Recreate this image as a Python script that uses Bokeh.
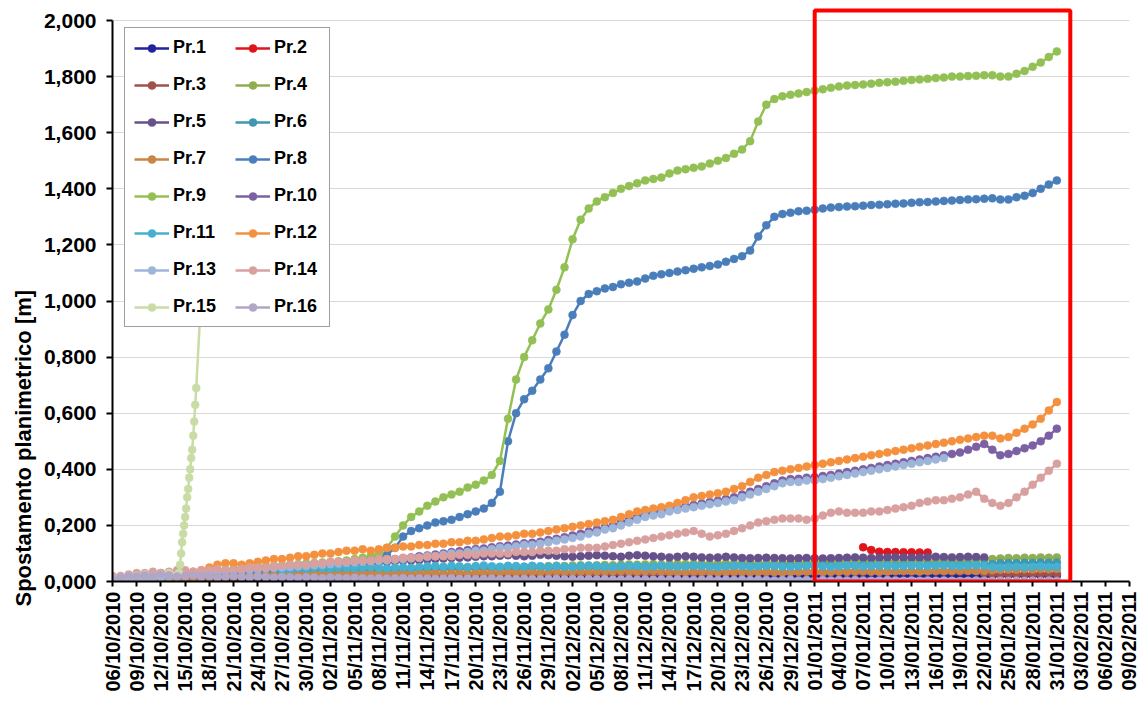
import pandas as pd
from math import pi
from bokeh.plotting import figure
from bokeh.models import (ColumnDataSource, FixedTicker, DatetimeTickFormatter, Legend,
                          LegendItem, BoxAnnotation, Range1d, Title)
from bokeh.embed import file_html
from bokeh.resources import INLINE

# ---------------- data ----------------
X_TICK_LABELS = ["06/10/2010", "09/10/2010", "12/10/2010", "15/10/2010", "18/10/2010", "21/10/2010",
                 "24/10/2010", "27/10/2010", "30/10/2010", "02/11/2010", "05/11/2010", "08/11/2010",
                 "11/11/2010", "14/11/2010", "17/11/2010", "20/11/2010", "23/11/2010", "26/11/2010",
                 "29/11/2010", "02/12/2010", "05/12/2010", "08/12/2010", "11/12/2010", "14/12/2010",
                 "17/12/2010", "20/12/2010", "23/12/2010", "26/12/2010", "29/12/2010", "01/01/2011",
                 "04/01/2011", "07/01/2011", "10/01/2011", "13/01/2011", "16/01/2011", "19/01/2011",
                 "22/01/2011", "25/01/2011", "28/01/2011", "31/01/2011", "03/02/2011", "06/02/2011",
                 "09/02/2011"]
Y_TICKS = [0.0, 0.2, 0.4, 0.6, 0.8, 1.0, 1.2, 1.4, 1.6, 1.8, 2.0]
Y_TICK_LABELS = ["0,000", "0,200", "0,400", "0,600", "0,800", "1,000", "1,200", "1,400",
                 "1,600", "1,800", "2,000"]
Y_TITLE = "Spostamento planimetrico [m]"

X_START = "2010-10-06"
X_END = "2011-02-09"
HIGHLIGHT_START = "2011-01-01 00:00"
HIGHLIGHT_END = "2011-02-01 16:00"
HIGHLIGHT_TOP = 2.036

# daily readings; each series starts at its START date
PR1_START = "2010-10-06"
PR1 = [0.000, 0.001, 0.002, 0.003, 0.003, 0.004, 0.004, 0.005, 0.005, 0.005,
       0.006, 0.006, 0.006, 0.007, 0.007, 0.007, 0.007, 0.008, 0.008, 0.008,
       0.008, 0.009, 0.009, 0.009, 0.009, 0.010, 0.010, 0.010, 0.010, 0.010,
       0.011, 0.011, 0.011, 0.011, 0.011, 0.012, 0.012, 0.012, 0.012, 0.012,
       0.012, 0.013, 0.013, 0.013, 0.013, 0.013, 0.013, 0.014, 0.014, 0.014,
       0.014, 0.014, 0.014, 0.014, 0.015, 0.015, 0.015, 0.015, 0.015, 0.015,
       0.015, 0.016, 0.016, 0.016, 0.016, 0.016, 0.016, 0.016, 0.016, 0.017,
       0.017, 0.017, 0.017, 0.017, 0.017, 0.017, 0.017, 0.017, 0.018, 0.018,
       0.018, 0.018, 0.018, 0.018, 0.018, 0.018, 0.018, 0.018, 0.019, 0.019,
       0.019, 0.019, 0.019, 0.019, 0.019, 0.019, 0.019, 0.019, 0.019, 0.020,
       0.020, 0.020, 0.020, 0.020, 0.020, 0.020, 0.020, 0.020, 0.020, 0.020,
       0.021, 0.021, 0.021, 0.021, 0.021, 0.021, 0.021, 0.021]

PR2_START = "2011-01-07"
PR2 = [0.122, 0.112, 0.106, 0.105, 0.105, 0.104, 0.104, 0.103, 0.103]

PR3_START = "2010-10-06"
PR3 = [0.000, 0.002, 0.004, 0.005, 0.006, 0.007, 0.008, 0.009, 0.009, 0.010,
       0.011, 0.011, 0.012, 0.012, 0.013, 0.013, 0.014, 0.014, 0.015, 0.015,
       0.016, 0.016, 0.016, 0.017, 0.017, 0.018, 0.018, 0.018, 0.019, 0.019,
       0.019, 0.020, 0.020, 0.020, 0.021, 0.021, 0.021, 0.022, 0.022, 0.022,
       0.023, 0.023, 0.023, 0.024, 0.024, 0.024, 0.025, 0.025, 0.025, 0.026,
       0.026, 0.026, 0.026, 0.027, 0.027, 0.027, 0.028, 0.028, 0.028, 0.028,
       0.029, 0.029, 0.029, 0.029, 0.030, 0.030, 0.030, 0.030, 0.031, 0.031,
       0.031, 0.031, 0.031, 0.032, 0.032, 0.032, 0.032, 0.032, 0.033, 0.033,
       0.033, 0.033, 0.033, 0.033, 0.034, 0.034, 0.034, 0.034, 0.034, 0.034,
       0.035, 0.035, 0.035, 0.035, 0.035, 0.035, 0.035, 0.036, 0.036, 0.036,
       0.036, 0.036, 0.036, 0.036, 0.036, 0.036, 0.037, 0.037, 0.030, 0.027,
       0.025, 0.026, 0.027, 0.026, 0.027, 0.028, 0.027, 0.028]

PR4_START = "2010-10-06"
PR4 = [0.000, 0.003, 0.004, 0.006, 0.006, 0.008, 0.010, 0.010, 0.012, 0.013,
       0.013, 0.015, 0.016, 0.016, 0.018, 0.019, 0.019, 0.021, 0.022, 0.022,
       0.024, 0.025, 0.025, 0.027, 0.028, 0.028, 0.030, 0.031, 0.031, 0.033,
       0.034, 0.034, 0.036, 0.037, 0.037, 0.039, 0.040, 0.040, 0.042, 0.043,
       0.043, 0.045, 0.046, 0.046, 0.048, 0.048, 0.049, 0.050, 0.050, 0.052,
       0.052, 0.053, 0.054, 0.053, 0.055, 0.056, 0.055, 0.057, 0.058, 0.057,
       0.058, 0.059, 0.058, 0.060, 0.061, 0.060, 0.061, 0.062, 0.061, 0.062,
       0.063, 0.062, 0.063, 0.064, 0.063, 0.064, 0.065, 0.064, 0.065, 0.066,
       0.065, 0.066, 0.067, 0.066, 0.067, 0.068, 0.067, 0.068, 0.069, 0.068,
       0.069, 0.070, 0.069, 0.070, 0.071, 0.070, 0.071, 0.072, 0.071, 0.072,
       0.073, 0.072, 0.073, 0.074, 0.073, 0.074, 0.075, 0.076, 0.078, 0.080,
       0.082, 0.084, 0.083, 0.085, 0.084, 0.086, 0.085, 0.086]

PR5_START = "2010-10-06"
PR5 = [0.000, 0.003, 0.005, 0.008, 0.010, 0.012, 0.014, 0.016, 0.018, 0.020,
       0.022, 0.024, 0.026, 0.028, 0.030, 0.032, 0.034, 0.036, 0.038, 0.040,
       0.042, 0.044, 0.046, 0.048, 0.050, 0.052, 0.054, 0.056, 0.058, 0.060,
       0.062, 0.064, 0.066, 0.068, 0.070, 0.072, 0.074, 0.075, 0.076, 0.078,
       0.080, 0.082, 0.084, 0.085, 0.086, 0.088, 0.090, 0.090, 0.092, 0.094,
       0.092, 0.090, 0.092, 0.095, 0.094, 0.092, 0.090, 0.088, 0.090, 0.092,
       0.094, 0.092, 0.090, 0.088, 0.092, 0.094, 0.092, 0.090, 0.088, 0.086,
       0.088, 0.090, 0.088, 0.086, 0.085, 0.086, 0.088, 0.086, 0.084, 0.083,
       0.084, 0.085, 0.084, 0.083, 0.082, 0.083, 0.084, 0.083, 0.082, 0.083,
       0.084, 0.085, 0.086, 0.085, 0.084, 0.085, 0.086, 0.087, 0.086, 0.085,
       0.086, 0.087, 0.088, 0.087, 0.086, 0.087, 0.088, 0.087, 0.086]

PR6_START = "2010-10-06"
PR6 = [0.000, 0.002, 0.004, 0.006, 0.008, 0.010, 0.012, 0.013, 0.014, 0.015,
       0.016, 0.017, 0.018, 0.019, 0.020, 0.021, 0.022, 0.023, 0.024, 0.025,
       0.030, 0.038, 0.040, 0.042, 0.040, 0.041, 0.043, 0.042, 0.044, 0.043,
       0.044, 0.045, 0.044, 0.046, 0.045, 0.044, 0.046, 0.045, 0.047, 0.046,
       0.045, 0.047, 0.046, 0.048, 0.047, 0.046, 0.048, 0.047, 0.049, 0.048,
       0.047, 0.049, 0.048, 0.050, 0.049, 0.048, 0.050, 0.049, 0.051, 0.050,
       0.049, 0.051, 0.050, 0.052, 0.051, 0.050, 0.052, 0.051, 0.053, 0.052,
       0.051, 0.053, 0.052, 0.054, 0.053, 0.052, 0.054, 0.053, 0.055, 0.054,
       0.053, 0.055, 0.054, 0.056, 0.055, 0.054, 0.056, 0.055, 0.057, 0.056,
       0.055, 0.057, 0.056, 0.058, 0.057, 0.056, 0.058, 0.057, 0.059, 0.058,
       0.057, 0.059, 0.058, 0.060, 0.059, 0.058, 0.060, 0.059, 0.061, 0.062,
       0.065, 0.066, 0.065, 0.067, 0.066, 0.068, 0.067, 0.068]

PR7_START = "2010-10-06"
PR7 = [0.000, 0.003, 0.005, 0.007, 0.008, 0.010, 0.011, 0.012, 0.013, 0.014,
       0.015, 0.016, 0.017, 0.018, 0.018, 0.019, 0.020, 0.020, 0.021, 0.021,
       0.022, 0.022, 0.023, 0.023, 0.024, 0.024, 0.025, 0.025, 0.025, 0.026,
       0.026, 0.027, 0.026, 0.027, 0.028, 0.027, 0.028, 0.029, 0.028, 0.029,
       0.030, 0.029, 0.030, 0.031, 0.030, 0.031, 0.032, 0.031, 0.032, 0.033,
       0.032, 0.033, 0.034, 0.033, 0.034, 0.035, 0.034, 0.035, 0.036, 0.035,
       0.036, 0.035, 0.036, 0.037, 0.036, 0.035, 0.036, 0.037, 0.036, 0.035,
       0.034, 0.035, 0.036, 0.035, 0.034, 0.033, 0.034, 0.035, 0.034, 0.033,
       0.034, 0.035, 0.034, 0.033, 0.034, 0.035, 0.036, 0.035, 0.034, 0.035,
       0.036, 0.035, 0.036, 0.037, 0.036, 0.035, 0.036, 0.037, 0.038, 0.037,
       0.036, 0.037, 0.038, 0.037, 0.038, 0.039, 0.038, 0.037, 0.038, 0.040,
       0.042, 0.043, 0.042, 0.044, 0.043, 0.045, 0.044, 0.045]

PR8_START = "2010-10-06"
PR8 = [0.000, 0.004, 0.008, 0.010, 0.013, 0.016, 0.018, 0.021, 0.024, 0.026,
       0.028, 0.031, 0.033, 0.035, 0.037, 0.040, 0.042, 0.044, 0.046, 0.048,
       0.050, 0.052, 0.054, 0.056, 0.058, 0.060, 0.062, 0.064, 0.066, 0.068,
       0.072, 0.076, 0.080, 0.085, 0.095, 0.120, 0.160, 0.180, 0.190, 0.200,
       0.210, 0.215, 0.220, 0.230, 0.240, 0.250, 0.260, 0.280, 0.320, 0.500,
       0.600, 0.650, 0.680, 0.720, 0.760, 0.820, 0.880, 0.950, 1.000, 1.025,
       1.035, 1.045, 1.050, 1.060, 1.065, 1.070, 1.080, 1.090, 1.095, 1.100,
       1.105, 1.110, 1.115, 1.120, 1.125, 1.130, 1.140, 1.150, 1.160, 1.180,
       1.230, 1.270, 1.300, 1.310, 1.315, 1.320, 1.322, 1.325, 1.330, 1.333,
       1.335, 1.337, 1.338, 1.340, 1.342, 1.343, 1.345, 1.347, 1.348, 1.350,
       1.352, 1.353, 1.355, 1.357, 1.358, 1.360, 1.362, 1.363, 1.365, 1.366,
       1.362, 1.362, 1.370, 1.375, 1.385, 1.400, 1.415, 1.430]

PR9_START = "2010-10-06"
PR9 = [0.000, 0.005, 0.010, 0.012, 0.015, 0.018, 0.020, 0.024, 0.027, 0.030,
       0.032, 0.035, 0.038, 0.040, 0.042, 0.045, 0.047, 0.050, 0.052, 0.054,
       0.056, 0.058, 0.060, 0.062, 0.064, 0.066, 0.068, 0.070, 0.072, 0.075,
       0.080, 0.085, 0.090, 0.100, 0.120, 0.160, 0.200, 0.230, 0.250, 0.270,
       0.285, 0.300, 0.310, 0.320, 0.335, 0.345, 0.360, 0.380, 0.430, 0.580,
       0.720, 0.800, 0.860, 0.920, 0.970, 1.040, 1.120, 1.220, 1.290, 1.330,
       1.355, 1.370, 1.385, 1.400, 1.410, 1.420, 1.430, 1.435, 1.440, 1.455,
       1.465, 1.470, 1.475, 1.480, 1.490, 1.500, 1.510, 1.525, 1.540, 1.570,
       1.640, 1.700, 1.720, 1.730, 1.735, 1.740, 1.745, 1.750, 1.755, 1.760,
       1.765, 1.768, 1.770, 1.772, 1.775, 1.778, 1.780, 1.782, 1.785, 1.788,
       1.790, 1.792, 1.795, 1.797, 1.800, 1.800, 1.802, 1.803, 1.805, 1.805,
       1.800, 1.800, 1.810, 1.820, 1.835, 1.850, 1.870, 1.890]

PR10_START = "2010-10-06"
PR10 = [0.000, 0.003, 0.006, 0.009, 0.012, 0.015, 0.017, 0.020, 0.022, 0.025,
        0.027, 0.030, 0.032, 0.035, 0.037, 0.039, 0.042, 0.044, 0.046, 0.048,
        0.050, 0.052, 0.054, 0.056, 0.058, 0.060, 0.062, 0.064, 0.066, 0.068,
        0.070, 0.072, 0.074, 0.076, 0.078, 0.080, 0.083, 0.086, 0.090, 0.093,
        0.096, 0.100, 0.105, 0.108, 0.112, 0.116, 0.118, 0.122, 0.126, 0.128,
        0.132, 0.136, 0.138, 0.142, 0.148, 0.152, 0.158, 0.164, 0.170, 0.178,
        0.185, 0.193, 0.200, 0.210, 0.220, 0.230, 0.238, 0.244, 0.250, 0.258,
        0.263, 0.268, 0.273, 0.278, 0.283, 0.288, 0.294, 0.300, 0.310, 0.320,
        0.330, 0.340, 0.350, 0.360, 0.365, 0.366, 0.370, 0.372, 0.376, 0.380,
        0.385, 0.390, 0.395, 0.400, 0.405, 0.410, 0.415, 0.420, 0.425, 0.430,
        0.435, 0.440, 0.445, 0.450, 0.455, 0.460, 0.470, 0.480, 0.490, 0.470,
        0.450, 0.455, 0.465, 0.475, 0.485, 0.500, 0.520, 0.545]

PR11_START = "2010-10-27"
PR11 = [0.040, 0.045, 0.048, 0.046, 0.050, 0.048, 0.047, 0.050, 0.049,
        0.048, 0.050, 0.052, 0.049, 0.047, 0.050, 0.051, 0.049, 0.052, 0.054,
        0.055, 0.053, 0.056, 0.054, 0.052, 0.055, 0.057, 0.054, 0.053, 0.056,
        0.055, 0.053, 0.056, 0.054, 0.052, 0.055, 0.053, 0.052, 0.054, 0.056,
        0.055, 0.053, 0.052, 0.054, 0.056, 0.055, 0.053, 0.054, 0.056, 0.055,
        0.053, 0.054, 0.056, 0.055, 0.053, 0.052, 0.054, 0.056, 0.055, 0.053,
        0.054, 0.056, 0.055, 0.053, 0.052, 0.054, 0.056, 0.055, 0.054, 0.053,
        0.055, 0.057, 0.056, 0.054, 0.055, 0.057, 0.056, 0.054, 0.055, 0.057,
        0.056, 0.055, 0.057, 0.058, 0.056, 0.055, 0.057, 0.058, 0.056, 0.052,
        0.050, 0.052, 0.053, 0.051, 0.053, 0.054, 0.052, 0.053]

PR12_START = "2010-10-06"
PR12 = [0.010, 0.015, 0.020, 0.020, 0.025, 0.025, 0.030, 0.030, 0.030, 0.035,
        0.035, 0.040, 0.050, 0.060, 0.065, 0.065, 0.060, 0.065, 0.070, 0.075,
        0.080, 0.080, 0.085, 0.090, 0.090, 0.095, 0.100, 0.100, 0.105, 0.110,
        0.110, 0.115, 0.110, 0.115, 0.120, 0.120, 0.125, 0.125, 0.130, 0.130,
        0.135, 0.135, 0.140, 0.140, 0.145, 0.145, 0.150, 0.155, 0.160, 0.160,
        0.165, 0.170, 0.170, 0.175, 0.180, 0.185, 0.190, 0.195, 0.200, 0.205,
        0.210, 0.215, 0.220, 0.230, 0.240, 0.250, 0.255, 0.260, 0.265, 0.270,
        0.280, 0.290, 0.300, 0.305, 0.310, 0.315, 0.320, 0.330, 0.340, 0.355,
        0.370, 0.380, 0.390, 0.395, 0.400, 0.405, 0.410, 0.415, 0.420, 0.425,
        0.430, 0.435, 0.440, 0.445, 0.450, 0.455, 0.460, 0.465, 0.470, 0.475,
        0.480, 0.485, 0.490, 0.495, 0.500, 0.505, 0.510, 0.515, 0.520, 0.520,
        0.510, 0.515, 0.530, 0.545, 0.560, 0.580, 0.610, 0.640]

PR13_START = "2010-10-06"
PR13 = [0.000, 0.002, 0.005, 0.008, 0.010, 0.013, 0.015, 0.018, 0.020, 0.023,
        0.025, 0.028, 0.030, 0.033, 0.035, 0.037, 0.040, 0.042, 0.044, 0.046,
        0.048, 0.050, 0.052, 0.054, 0.056, 0.058, 0.060, 0.062, 0.064, 0.066,
        0.068, 0.070, 0.072, 0.074, 0.076, 0.078, 0.080, 0.082, 0.085, 0.088,
        0.090, 0.095, 0.100, 0.100, 0.105, 0.110, 0.110, 0.115, 0.120, 0.120,
        0.125, 0.130, 0.130, 0.135, 0.140, 0.145, 0.150, 0.155, 0.160, 0.170,
        0.175, 0.185, 0.190, 0.200, 0.210, 0.220, 0.230, 0.235, 0.240, 0.250,
        0.255, 0.260, 0.265, 0.270, 0.275, 0.280, 0.285, 0.290, 0.300, 0.310,
        0.320, 0.330, 0.340, 0.350, 0.355, 0.355, 0.360, 0.360, 0.365, 0.370,
        0.375, 0.380, 0.385, 0.390, 0.395, 0.400, 0.405, 0.410, 0.415, 0.420,
        0.425, 0.430, 0.435, 0.440]

PR14_START = "2010-10-06"
PR14 = [0.020, 0.020, 0.025, 0.030, 0.030, 0.035, 0.030, 0.035, 0.040, 0.040,
        0.035, 0.040, 0.040, 0.045, 0.040, 0.040, 0.045, 0.050, 0.050, 0.050,
        0.055, 0.055, 0.060, 0.060, 0.060, 0.065, 0.065, 0.070, 0.070, 0.070,
        0.075, 0.075, 0.075, 0.080, 0.080, 0.080, 0.085, 0.085, 0.085, 0.090,
        0.090, 0.090, 0.090, 0.095, 0.095, 0.095, 0.100, 0.100, 0.100, 0.100,
        0.105, 0.105, 0.105, 0.110, 0.110, 0.110, 0.115, 0.115, 0.120, 0.120,
        0.120, 0.125, 0.130, 0.135, 0.140, 0.145, 0.150, 0.155, 0.160, 0.165,
        0.170, 0.175, 0.180, 0.170, 0.160, 0.165, 0.170, 0.180, 0.190, 0.200,
        0.210, 0.215, 0.220, 0.225, 0.225, 0.225, 0.220, 0.225, 0.235, 0.245,
        0.250, 0.245, 0.245, 0.245, 0.250, 0.250, 0.255, 0.260, 0.265, 0.270,
        0.280, 0.285, 0.290, 0.290, 0.295, 0.300, 0.310, 0.320, 0.295, 0.280,
        0.270, 0.280, 0.300, 0.320, 0.345, 0.370, 0.395, 0.420]

# Pr.15: daily, then a fast burst of readings while it moved
PR15_TIMES = ["2010-10-06 00:00", "2010-10-07 00:00", "2010-10-08 00:00", "2010-10-09 00:00",
              "2010-10-10 00:00", "2010-10-11 00:00", "2010-10-12 00:00", "2010-10-13 00:00",
              "2010-10-14 06:00", "2010-10-14 09:00", "2010-10-14 12:00", "2010-10-14 15:00",
              "2010-10-14 18:00", "2010-10-14 21:00", "2010-10-15 00:00", "2010-10-15 03:00",
              "2010-10-15 06:00", "2010-10-15 09:00", "2010-10-15 12:00", "2010-10-15 15:00",
              "2010-10-15 18:00", "2010-10-15 21:00", "2010-10-16 00:00", "2010-10-16 03:00",
              "2010-10-16 06:00", "2010-10-16 09:00", "2010-10-17 12:00"]
PR15 = [0.010, 0.015, 0.020, 0.020, 0.025, 0.020, 0.025, 0.030,
        0.030, 0.060, 0.100, 0.140, 0.170, 0.200, 0.230, 0.260, 0.300, 0.330,
        0.370, 0.400, 0.440, 0.470, 0.520, 0.570, 0.630, 0.690, 1.300]

PR16_START = "2010-10-06"
PR16 = [0.010, 0.015, 0.020, 0.018, 0.022, 0.020, 0.025, 0.022, 0.018, 0.020,
        0.022, 0.018, 0.020, 0.015, 0.018, 0.020, 0.017, 0.015, 0.018, 0.016,
        0.014, 0.016, 0.015, 0.013, 0.015, 0.014, 0.012, 0.014, 0.013, 0.012,
        0.013, 0.012, 0.011, 0.012, 0.010, 0.011, 0.012, 0.010, 0.011, 0.010,
        0.009, 0.010, 0.011, 0.009, 0.010, 0.008, 0.009, 0.010, 0.008, 0.009,
        0.008, 0.009, 0.008, 0.007, 0.008, 0.009, 0.007, 0.008, 0.007, 0.008,
        0.007, 0.008, 0.006, 0.007, 0.008, 0.006, 0.007, 0.006, 0.007, 0.006,
        0.007, 0.006, 0.005, 0.006, 0.007, 0.005, 0.006, 0.005, 0.006, 0.005,
        0.006, 0.005, 0.004, 0.005, 0.006, 0.004, 0.005, 0.004, 0.005, 0.004,
        0.005, 0.004, 0.005, 0.004, 0.003, 0.004, 0.005, 0.004, 0.003, 0.004,
        0.003, 0.004, 0.003, 0.004, 0.003, 0.002, 0.003, 0.004, 0.003, 0.002,
        0.003, 0.002, 0.003, 0.002, 0.003, 0.002, 0.003, 0.002]

NAMES = ["Pr.1", "Pr.2", "Pr.3", "Pr.4", "Pr.5", "Pr.6", "Pr.7", "Pr.8",
         "Pr.9", "Pr.10", "Pr.11", "Pr.12", "Pr.13", "Pr.14", "Pr.15", "Pr.16"]
COLORS = ["#22229B", "#E0151B", "#A0504D", "#8FAE53", "#67518A", "#3F97B0", "#C98446", "#4A7EBB",
          "#93C054", "#7C60A4", "#45B0CF", "#F4913F", "#9DB5D9", "#D9A0A0", "#C9DCA6", "#B1A6C8"]


def daily(start, values):
    return pd.date_range(start=start, periods=len(values), freq="D")


SERIES = [
    (daily(PR1_START, PR1), PR1), (daily(PR2_START, PR2), PR2),
    (daily(PR3_START, PR3), PR3), (daily(PR4_START, PR4), PR4),
    (daily(PR5_START, PR5), PR5), (daily(PR6_START, PR6), PR6),
    (daily(PR7_START, PR7), PR7), (daily(PR8_START, PR8), PR8),
    (daily(PR9_START, PR9), PR9), (daily(PR10_START, PR10), PR10),
    (daily(PR11_START, PR11), PR11), (daily(PR12_START, PR12), PR12),
    (daily(PR13_START, PR13), PR13), (daily(PR14_START, PR14), PR14),
    (pd.to_datetime(PR15_TIMES, format="%Y-%m-%d %H:%M"), PR15), (daily(PR16_START, PR16), PR16),
]


def ms(s):
    return pd.Timestamp(s).value / 1e6


# ---------------- figure ----------------
FONT = "Liberation Sans"

p = figure(width=1139, height=705, x_axis_type="datetime",
           x_range=Range1d(ms(X_START), ms(X_END)), y_range=Range1d(0, 2.05),
           output_backend="svg", toolbar_location=None,
           min_border_left=112, min_border_right=10, min_border_top=6, min_border_bottom=124)
p.outline_line_color = None
p.background_fill_color = "white"
p.border_fill_color = "white"

items = []
for name, color, (xs, ys) in zip(NAMES, COLORS, SERIES):
    src = ColumnDataSource(data=dict(x=xs, y=ys))
    l = p.line("x", "y", source=src, line_color=color, line_width=2.5)
    s = p.scatter("x", "y", source=src, size=8, marker="circle",
                  fill_color=color, line_color=color, line_width=0.5)
    items.append(LegendItem(label=name, renderers=[l, s]))

# highlight box
box = BoxAnnotation(left=ms(HIGHLIGHT_START), right=ms(HIGHLIGHT_END), bottom=0, top=HIGHLIGHT_TOP,
                    fill_alpha=0, fill_color=None, line_color="#FF0000", line_alpha=1.0,
                    line_width=4)
p.add_layout(box)

# axes
x_ticks = [ms(pd.to_datetime(t, format="%d/%m/%Y")) for t in X_TICK_LABELS]
p.xaxis.ticker = FixedTicker(ticks=x_ticks)
fmt = "%d/%m/%Y"
p.xaxis.formatter = DatetimeTickFormatter(days=fmt, months=fmt, years=fmt, hours=fmt,
                                          minutes=fmt, hourmin=fmt, seconds=fmt, minsec=fmt)
p.xaxis.major_label_orientation = pi / 2
p.xaxis.major_label_text_font = FONT
p.xaxis.major_label_text_font_style = "bold"
p.xaxis.major_label_text_font_size = "20px"
p.xaxis.major_label_text_color = "black"
p.xaxis.major_label_standoff = 5
p.xaxis.minor_tick_line_color = None
p.xaxis.major_tick_out = 5
p.xaxis.major_tick_in = 0
p.xaxis.major_tick_line_width = 2
p.xaxis.axis_line_width = 2
p.xaxis.axis_line_color = "black"

p.yaxis.ticker = FixedTicker(ticks=Y_TICKS)
p.yaxis.major_label_overrides = {t: lab for t, lab in zip(Y_TICKS, Y_TICK_LABELS)}
p.yaxis.bounds = (0, 2.0)
p.yaxis.major_label_text_font = FONT
p.yaxis.major_label_text_font_style = "bold"
p.yaxis.major_label_text_font_size = "21px"
p.yaxis.major_label_text_color = "black"
p.yaxis.major_label_standoff = 10
p.yaxis.minor_tick_line_color = None
p.yaxis.major_tick_out = 6
p.yaxis.major_tick_in = 0
p.yaxis.major_tick_line_width = 2
p.yaxis.axis_line_width = 2
p.yaxis.axis_line_color = "black"

# axis title: sits low along the axis in the original, so it is a left-side title
ytitle = Title(text=Y_TITLE, align="left", offset=-25, text_font=FONT,
               text_font_style="bold", text_font_size="22px", text_color="black",
               standoff=10)
p.add_layout(ytitle, "left")

p.ygrid.ticker = FixedTicker(ticks=Y_TICKS[1:])
p.ygrid.grid_line_color = "#D9D9D9"
p.ygrid.grid_line_width = 1
p.xgrid.visible = False

legend = Legend(items=items, location=(12, 254), orientation="horizontal", ncols=2,
                label_text_font=FONT, label_text_font_style="bold", label_text_font_size="18px",
                label_text_color="black",
                glyph_width=35, glyph_height=20, label_standoff=4, label_width=46, label_height=20,
                spacing=16, padding=9, margin=0,
                border_line_color="#404040", border_line_width=1.5,
                background_fill_color="white", background_fill_alpha=1.0)
p.add_layout(legend)

open("out.html", "w").write(file_html(p, INLINE))
